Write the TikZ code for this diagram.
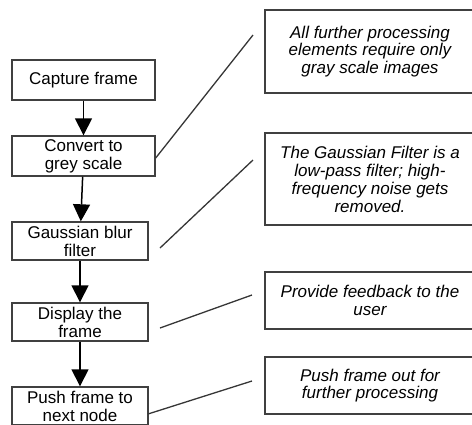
\documentclass[tikz,border=0pt]{standalone}
\usepackage{fontspec}
\setmainfont{Liberation Sans}
\usetikzlibrary{arrows.meta, positioning}
\definecolor{boxgray}{HTML}{404040}
\definecolor{linegray}{HTML}{363636}
\tikzset{
  stepbox/.style={draw=boxgray, line width=1.4pt, align=center, inner sep=0pt, font=\fontsize{17}{18}\selectfont},
  notebox/.style={draw=boxgray, line width=1.4pt, align=center, inner sep=0pt, minimum width=210pt, font=\fontsize{17}{17.5}\selectfont\itshape},
  flow/.style={-{Triangle[length=17pt,width=17pt]}, line width=1.5pt, black},
  link/.style={line width=1.3pt, linegray}
}
\begin{document}
\begin{tikzpicture}[x=1pt, y=-1pt]
  \useasboundingbox (0,0) rectangle (472,424);
  \clip (0,0) rectangle (472,424);

  \node[stepbox, minimum width=143pt, minimum height=40pt] (capture) at (83.5,80) {Capture frame};
  \node[stepbox, minimum width=143pt, minimum height=40pt] (convert) at (83.5,156) {Convert to\\grey scale};
  \node[stepbox, minimum width=136pt, minimum height=38pt] (gauss) at (80,241) {Gaussian blur\\filter};
  \node[stepbox, minimum width=136pt, minimum height=38pt] (display) at (80,322) {Display the\\frame};
  \node[stepbox, minimum width=136pt, minimum height=38pt] (push) at (80,406) {Push frame to\\next node};

  \node[notebox, minimum height=83pt] (grayNote) at (370,51.5) {All further processing\\elements require only\\gray scale images};
  \node[notebox, minimum height=92pt, font=\fontsize{17}{18}\selectfont\itshape] (gaussNote) at (370,179) {The Gaussian Filter is a\\low-pass filter; high-\\frequency noise gets\\removed.};
  \node[notebox, minimum height=57pt] (displayNote) at (370,300.5) {Provide feedback to the\\user};
  \node[notebox, minimum height=57pt] (pushNote) at (370,385.5) {Push frame out for\\further processing};

  \draw[flow] (capture) -- (convert);
  \draw[flow] (convert) -- (gauss);
  \draw[flow] (gauss) -- (display);
  \draw[flow] (display) -- (push);

  \coordinate (grayEnd) at (253,35);
  \coordinate (gaussStart) at (160,248);
  \coordinate (gaussEnd) at (253,160);
  \coordinate (displayStart) at (160,328);
  \coordinate (displayEnd) at (252,295);
  \coordinate (pushStart) at (148,414);
  \coordinate (pushEnd) at (252,381);

  \draw[link] ([yshift=-2pt]convert.east) -- (grayEnd);
  \draw[link] (gaussStart) -- (gaussEnd);
  \draw[link] (displayStart) -- (displayEnd);
  \draw[link] (pushStart) -- (pushEnd);
\end{tikzpicture}
\end{document}
